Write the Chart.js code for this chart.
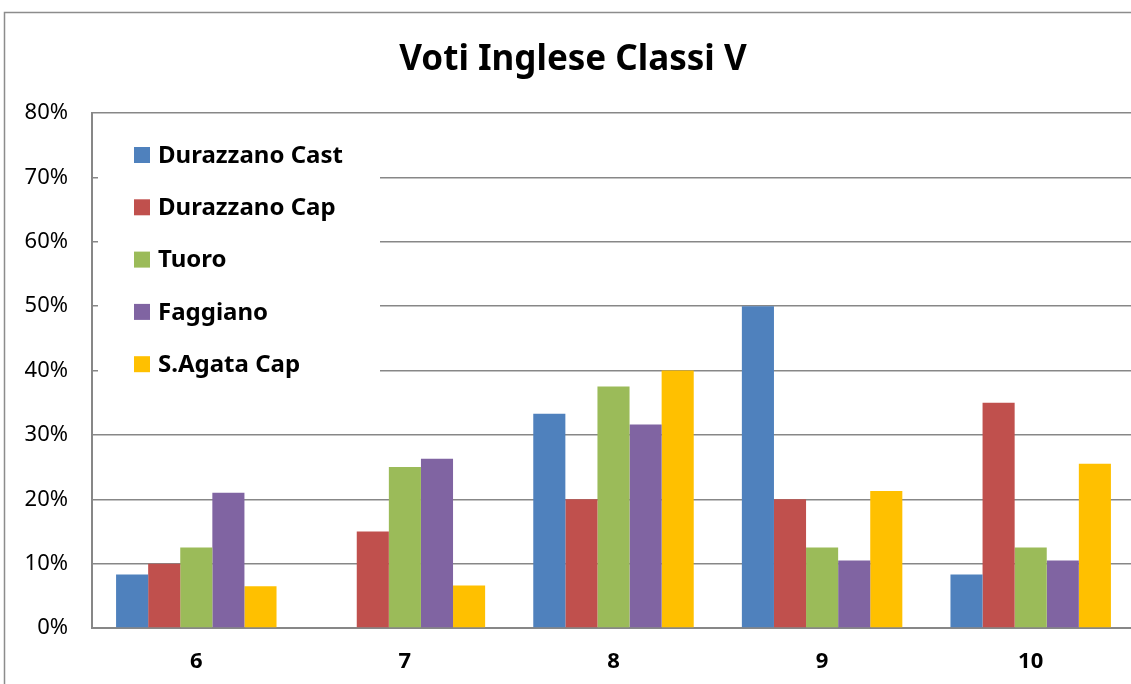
<!DOCTYPE html>
<html>
<head>
<meta charset="utf-8">
<script src="https://cdn.jsdelivr.net/npm/chart.js@4.4.1/dist/chart.umd.min.js"></script>
<style>
  html, body { margin: 0; padding: 0; background: #fff; overflow: hidden; width: 1131px; height: 684px; }
  canvas { display: block; }
</style>
</head>
<body>
<canvas id="myChart" width="1135" height="684"></canvas>
<script>
const grades = ["6", "7", "8", "9", "10"]
const seriesNames = ["Durazzano Cast", "Durazzano Cap", "Tuoro", "Faggiano", "S.Agata Cap"]
const seriesColors = ["#4F81BD", "#C0504D", "#9BBB59", "#8064A2", "#FFC000"]

// percentuali
const durazzanoCast = [8.3, 0, 33.3, 50, 8.3]
const durazzanoCap = [10, 15, 20, 20, 35]
const tuoro = [12.5, 25, 37.5, 12.5, 12.5]
const faggiano = [21, 26.3, 31.6, 10.5, 10.5]
const sAgataCap = [6.5, 6.6, 40, 21.3, 25.5]

const yTicks = [0, 10, 20, 30, 40, 50, 60, 70, 80]

const allValues = [durazzanoCast, durazzanoCap, tuoro, faggiano, sAgataCap]
let datasets = []
for (let i = 0; i < seriesNames.length; i++) {
  datasets.push({
    label: seriesNames[i],
    data: allValues[i],
    backgroundColor: seriesColors[i],
    borderWidth: 0,
    categoryPercentage: 1 / 1.3,
    barPercentage: 1
  })
}

const gridCol = '#878787'
const font = '"Noto Sans", sans-serif'

// cornice esterna: solo lato sinistro e alto, il resto esce dal quadro
const frame = {
  id: 'frame',
  beforeDraw(chart) {
    const c = chart.ctx
    c.save()
    c.fillStyle = '#fff'
    c.fillRect(0, 0, chart.width, chart.height)
    c.strokeStyle = '#8c8c8c'
    c.lineWidth = 1.5
    c.beginPath()
    c.moveTo(4.5, chart.height)
    c.lineTo(4.5, 12.5)
    c.lineTo(chart.width, 12.5)
    c.stroke()
    c.restore()
  }
}

// legenda dentro l'area del grafico, come in Excel
const insideLegend = {
  id: 'insideLegend',
  afterDatasetsDraw(chart) {
    const c = chart.ctx
    const a = chart.chartArea
    c.save()
    c.fillStyle = '#fff'
    c.fillRect(a.left + 6, a.top + 16, 282, 266)
    c.font = 'bold 24px ' + font
    c.textBaseline = 'middle'
    chart.data.datasets.forEach((ds, i) => {
      const y = a.top + 42 + i * 52.3
      c.fillStyle = ds.backgroundColor
      c.fillRect(a.left + 42, y - 8, 16, 16)
      c.fillStyle = '#000'
      c.fillText(ds.label, a.left + 66, y + 1)
    })
    c.restore()
  }
}

const ctx = document.getElementById('myChart').getContext('2d')
const myChart = new Chart(ctx, {
  type: 'bar',
  data: {
    labels: grades,
    datasets: datasets
  },
  options: {
    responsive: false,
    animation: false,
    layout: { padding: { left: 11, top: 0, right: 0, bottom: 0 } },
    plugins: {
      legend: { display: false },
      tooltip: { enabled: false },
      title: {
        display: true,
        text: 'Voti Inglese Classi V',
        color: '#000',
        font: { family: font, size: 35, weight: 'bold' },
        padding: { top: 39, bottom: 32 }
      }
    },
    scales: {
      x: {
        grid: { display: false, drawTicks: false },
        border: { display: true, color: gridCol, width: 2 },
        ticks: {
          color: '#000',
          padding: 21,
          font: { family: font, size: 22, weight: 'bold' }
        },
        afterFit(scale) { scale.height = 56 }
      },
      y: {
        min: 0,
        max: 80,
        afterBuildTicks(scale) { scale.ticks = yTicks.map(v => ({ value: v })) },
        grid: { color: gridCol, lineWidth: 1.5, drawTicks: false },
        border: { display: true, color: gridCol, width: 2 },
        ticks: {
          color: '#000',
          padding: 24,
          font: { family: font, size: 22 },
          callback: v => v + '%'
        },
        afterFit(scale) { scale.width = 81 }
      }
    }
  },
  plugins: [frame, insideLegend]
})
</script>
</body>
</html>
